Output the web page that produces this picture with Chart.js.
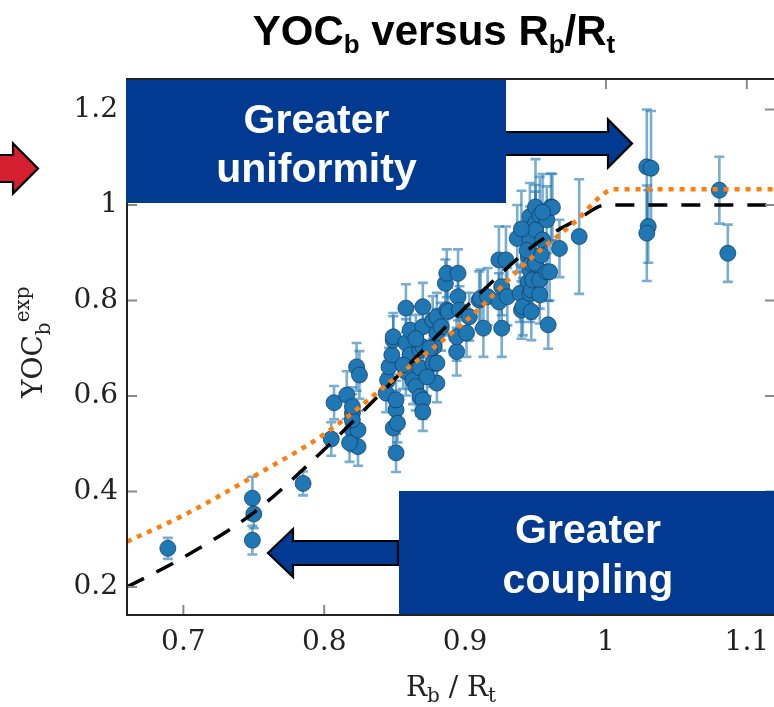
<!DOCTYPE html>
<html><head><meta charset="utf-8">
<script src="https://cdn.jsdelivr.net/npm/chart.js@4/dist/chart.umd.min.js"></script>
<style>
html,body{margin:0;padding:0;background:#fff;overflow:hidden;width:774px;height:707px;}
#wrap{position:absolute;left:0;top:0;width:790px;height:707px;}
</style></head><body>
<div id="wrap"><canvas id="c" width="790" height="707"></canvas></div>
<script>
// ---- data ----
const ratioX = [
 0.689,0.749,0.750,0.749,0.785,
 0.805,0.807,0.816,0.820,0.820,0.824,0.818,0.824,0.823,0.825,0.820,0.820,
 0.844,0.845,0.846,0.848,0.849,0.849,0.849,0.851,0.851,0.851,0.852,0.858,0.858,0.858,0.861,0.861,0.863,0.865,
 0.868,0.868,0.868,0.870,0.870,0.870,0.870,0.870,0.877,0.877,0.878,0.880,0.880,0.880,0.880,
 0.886,0.887,0.887,0.888,0.894,0.894,0.895,0.895,0.896,0.901,0.903,
 0.910,0.911,0.913,0.916,0.924,0.924,0.926,0.926,0.929,0.930,0.937,0.939,0.940,0.941,
 0.945,0.945,0.946,0.946,0.946,0.946,0.947,0.947,0.947,0.948,0.950,0.950,0.950,0.950,0.953,0.953,0.953,
 0.954,0.955,0.958,0.958,0.959,0.960,0.961,0.962,0.967,0.981,
 0.875,0.865,0.883,0.856,0.873,0.940,0.955,0.944,
 1.029,1.032,1.030,1.029,1.0805,1.0865
];
const yocY = [
 0.281,0.386,0.353,0.298,0.417,
 0.510,0.586,0.602,0.564,0.529,0.494,0.502,0.529,0.661,0.644,0.550,0.578,
 0.606,0.633,0.661,0.686,0.717,0.724,0.533,0.481,0.571,0.592,0.543,0.784,0.711,0.651,0.738,0.686,0.633,0.620,
 0.659,0.696,0.599,0.787,0.745,0.703,0.592,0.567,0.759,0.669,0.703,0.766,0.732,0.669,0.627,
 0.836,0.857,0.780,0.777,0.693,0.724,0.857,0.808,0.780,0.732,0.766,
 0.801,0.805,0.742,0.808,0.797,0.885,0.829,0.742,0.885,0.808,0.930,0.815,0.780,0.787,
 0.892,0.839,0.976,0.927,0.864,0.815,0.878,0.822,0.777,0.843,0.996,0.962,0.948,0.878,0.979,0.843,0.812,
 0.895,0.927,0.969,0.860,0.749,0.860,0.996,0.995,0.909,0.934,
 0.700,0.720,0.745,0.665,0.640,0.950,0.985,0.905,
 1.080,1.077,0.955,0.941,1.031,0.899
];
const yocErr = [
 0.022,0.045,0.030,0.030,0.025,
 0.035,0.035,0.050,0.040,0.045,0.040,0.040,0.040,0.050,0.050,0.040,0.040,
 0.040,0.040,0.040,0.040,0.050,0.050,0.040,0.040,0.040,0.040,0.040,0.050,0.050,0.050,0.050,0.050,0.050,0.050,
 0.050,0.050,0.040,0.050,0.050,0.050,0.040,0.040,0.050,0.050,0.050,0.050,0.050,0.040,0.040,
 0.050,0.050,0.050,0.050,0.050,0.050,0.050,0.050,0.050,0.050,0.050,
 0.060,0.060,0.060,0.060,0.060,0.070,0.060,0.060,0.070,0.060,0.070,0.060,0.060,0.060,
 0.070,0.060,0.070,0.070,0.060,0.060,0.060,0.060,0.060,0.060,0.100,0.080,0.080,0.070,0.080,0.060,0.060,
 0.070,0.070,0.070,0.060,0.050,0.060,0.070,0.070,0.060,0.120,
 0.050,0.050,0.050,0.050,0.040,0.080,0.080,0.070,
 0.120,0.120,0.076,0.100,0.070,0.060
];
// model curves
const dashedX = [0.66,0.70,0.75,0.80,0.85,0.90,0.95,0.98,1.00,1.12];
const dashedY = [0.20,0.262,0.356,0.488,0.635,0.785,0.918,0.970,1.00,1.00];
const dottedX = [0.66,0.70,0.75,0.80,0.85,0.90,0.95,0.98,0.995,1.005,1.12];
const dottedY = [0.295,0.35,0.432,0.52,0.637,0.756,0.897,0.97,1.015,1.033,1.033];
// ticks
const xTicks = [0.7,0.8,0.9,1.0,1.1];
const xTickLabels = ['0.7','0.8','0.9','1','1.1'];
const yTicks = [0.2,0.4,0.6,0.8,1.0,1.2];
const yTickLabels = ['0.2','0.4','0.6','0.8','1','1.2'];

const SERIF = '"DejaVu Serif", serif';
const SANS = '"Liberation Sans", Arial, sans-serif';
const BLUE = '#023a92';

function richText(ctx, parts, x, y, align, weight, family, color){
  let w = 0;
  parts.forEach(p=>{ctx.font = weight+' '+p.s+'px '+family; p.w = ctx.measureText(p.t).width; w += p.w;});
  let cx = align==='center' ? x - w/2 : x;
  ctx.fillStyle = color; ctx.textBaseline='alphabetic'; ctx.textAlign='left';
  parts.forEach(p=>{ctx.font = weight+' '+p.s+'px '+family; ctx.fillText(p.t, cx, y + (p.dy||0)); cx += p.w;});
}
function arrow(ctx, tipX, baseX, endX, yc, shaftHalf, headHalf, fill){
  ctx.beginPath();
  ctx.moveTo(tipX, yc);
  ctx.lineTo(baseX, yc-headHalf);
  ctx.lineTo(baseX, yc-shaftHalf);
  ctx.lineTo(endX, yc-shaftHalf);
  ctx.lineTo(endX, yc+shaftHalf);
  ctx.lineTo(baseX, yc+shaftHalf);
  ctx.lineTo(baseX, yc+headHalf);
  ctx.closePath();
  ctx.fillStyle = fill; ctx.fill();
  ctx.lineWidth = 2.2; ctx.strokeStyle = '#000'; ctx.lineJoin='miter'; ctx.stroke();
}

const errorBars = {
  id:'errorBars',
  beforeDatasetsDraw(chart){
    const ctx = chart.ctx, xs = chart.scales.x, ys = chart.scales.y, a = chart.chartArea;
    ctx.save();
    ctx.beginPath(); ctx.rect(a.left, a.top, a.right-a.left, a.bottom-a.top); ctx.clip();
    ctx.strokeStyle = 'rgba(31,119,180,0.6)'; ctx.lineWidth = 2.6;
    for (let i=0;i<ratioX.length;i++){
      const px = xs.getPixelForValue(ratioX[i]);
      const t = ys.getPixelForValue(yocY[i]+yocErr[i]);
      const b = ys.getPixelForValue(yocY[i]-yocErr[i]);
      ctx.beginPath();
      ctx.moveTo(px,t); ctx.lineTo(px,b);
      ctx.moveTo(px-5,t); ctx.lineTo(px+5,t);
      ctx.moveTo(px-5,b); ctx.lineTo(px+5,b);
      ctx.stroke();
    }
    ctx.restore();
  }
};

const frameAndDecor = {
  id:'frameAndDecor',
  afterDatasetsDraw(chart){
    const ctx = chart.ctx, xs = chart.scales.x, ys = chart.scales.y, a = chart.chartArea;
    ctx.save();
    ctx.strokeStyle = '#8a8a8a'; ctx.lineWidth = 2;
    ctx.beginPath();
    xTicks.forEach(v=>{const p = xs.getPixelForValue(v);
      ctx.moveTo(p,a.bottom); ctx.lineTo(p,a.bottom-10);
      ctx.moveTo(p,a.top); ctx.lineTo(p,a.top+10);});
    yTicks.forEach(v=>{const p = ys.getPixelForValue(v);
      ctx.moveTo(a.left,p); ctx.lineTo(a.left+10,p);
      ctx.moveTo(a.right,p); ctx.lineTo(a.right-10,p);});
    ctx.stroke();
    ctx.strokeStyle = '#222'; ctx.lineWidth = 2;
    ctx.strokeRect(a.left, a.top, a.right-a.left, a.bottom-a.top);
    ctx.restore();
  },
  afterDraw(chart){
    const ctx = chart.ctx, a = chart.chartArea;
    ctx.save();
    richText(ctx, [{t:'YOC',s:42},{t:'b',s:26,dy:8},{t:' versus R',s:42},{t:'b',s:26,dy:8},{t:'/R',s:42},{t:'t',s:26,dy:8}],
      434, 45, 'center', 'bold', SANS, '#000');
    richText(ctx, [{t:'R',s:28},{t:'b',s:20,dy:6},{t:' / R',s:28},{t:'t',s:20,dy:6}],
      (a.left+a.right)/2, 696, 'center', 'normal', SERIF, '#222');
    ctx.save();
    ctx.translate(42, 398); ctx.rotate(-Math.PI/2);
    richText(ctx, [{t:'YOC',s:28},{t:'b',s:20,dy:8},{t:'exp',s:20,dy:-13}], 0, 0, 'left', 'normal', SERIF, '#222');
    ctx.restore();
    arrow(ctx, 632, 608, 503, 143.5, 11.5, 24, BLUE);
    arrow(ctx, 268, 293, 398, 553, 12, 24, BLUE);
    arrow(ctx, 38, 13, -10, 168.5, 13.5, 25, '#d51f30');
    ctx.fillStyle = BLUE;
    ctx.fillRect(126, 80, 380, 123);
    ctx.fillRect(399, 491, 400, 123);
    ctx.fillStyle = '#fff'; ctx.textAlign='center'; ctx.textBaseline='alphabetic';
    ctx.font = 'bold 41px '+SANS;
    ctx.fillText('Greater', 316.5, 133);
    ctx.fillText('uniformity', 316.5, 182);
    ctx.fillText('Greater', 588, 543);
    ctx.fillText('coupling', 588, 593);
    ctx.restore();
  }
};

new Chart(document.getElementById('c'), {
  data: {
    datasets: [
      {type:'line', label:'model', data: dashedX.map((x,i)=>({x, y:dashedY[i]})),
       borderColor:'#000', borderWidth:3.5, borderDash:[19,14], pointRadius:0,
       cubicInterpolationMode:'monotone', fill:false, order:1},
      {type:'line', label:'model 2', data: dottedX.map((x,i)=>({x, y:dottedY[i]})),
       borderColor:'#ff7f0e', borderWidth:4.5, borderDash:[5,6], pointRadius:0,
       cubicInterpolationMode:'monotone', fill:false, order:0},
      {type:'scatter', label:'YOC', data: ratioX.map((x,i)=>({x, y:yocY[i]})),
       backgroundColor:'#1f77b4', borderColor:'rgba(20,60,100,0.75)', borderWidth:1,
       pointRadius:8, pointHoverRadius:8, order:2}
    ]
  },
  options: {
    responsive:false, animation:false, devicePixelRatio:1,
    layout:{padding:{top:79, right:15, left:0, bottom:0}},
    plugins:{legend:{display:false}, tooltip:{enabled:false}, title:{display:false}},
    scales:{
      x:{type:'linear', min:0.66, max:1.12,
         grid:{display:false, drawTicks:false}, border:{display:false},
         afterBuildTicks: s => { s.ticks = xTicks.map(v=>({value:v})); },
         afterFit: s => { s.height = 92; },
         ticks:{padding:11, color:'#222', font:{family:SERIF, size:28},
                callback:(v)=>{const i = xTicks.findIndex(t=>Math.abs(t-v)<1e-9); return i>=0?xTickLabels[i]:'';}}},
      y:{type:'linear', min:0.1414, max:1.2639,
         grid:{display:false, drawTicks:false}, border:{display:false},
         afterBuildTicks: s => { s.ticks = yTicks.map(v=>({value:v})); },
         afterFit: s => { s.width = 127; },
         ticks:{padding:9, color:'#222', font:{family:SERIF, size:28},
                callback:(v)=>{const i = yTicks.findIndex(t=>Math.abs(t-v)<1e-9); return i>=0?yTickLabels[i]:'';}}}
    }
  },
  plugins:[errorBars, frameAndDecor]
});
</script>
</body></html>
